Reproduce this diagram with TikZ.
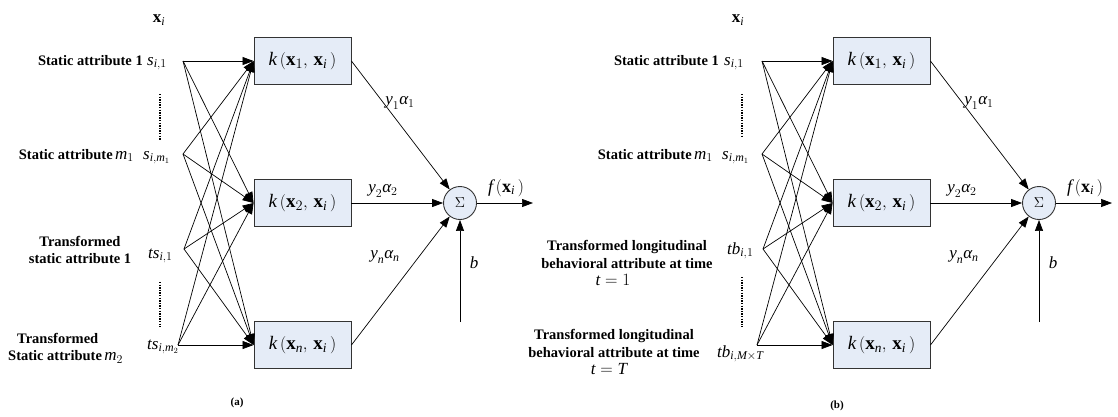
\documentclass[tikz,border=0pt]{standalone}
\usepackage{amsmath}
\usepackage{fontspec}
\setmainfont{Liberation Serif}
\usetikzlibrary{arrows.meta}
\definecolor{boxfill}{RGB}{229,236,247}
\newcommand\ti[1]{\textit{#1}}
\newcommand\xb{\textbf{x}}
\newcommand\netcore{%
  \node[kbox] (k1) at (302.5,61) {$\ti{k}\,(\xb_1,\,\xb_{\ti{i}}\,)$};
  \node[kbox] (k2) at (302.5,203) {$\ti{k}\,(\xb_2,\,\xb_{\ti{i}}\,)$};
  \node[kbox] (kn) at (302.5,345) {$\ti{k}\,(\xb_{\ti{n}},\,\xb_{\ti{i}}\,)$};
  \coordinate (in1) at (183,61);
  \coordinate (in2) at (183,154);
  \coordinate (in3) at (184,249);
  \coordinate (in4) at (178,345);
  \foreach \i in {1,2,3,4}{\foreach \j in {1,2,n}{\draw[arr] (in\i) -- (k\j.west);}}
  \node[sumnode] (s) at (460,203) {$\Sigma$};
  \draw[arr] (k1.east) -- (s);
  \draw[arr] (k2.east) -- (s.west);
  \draw[arr] (kn.east) -- (s);
  \coordinate (out) at (533,203);
  \draw[arr] (s.east) -- (out);
  \coordinate (bin) at (460,322);
  \draw[arr] (bin) -- (s.south);
  \node[mlab] (w1) at (400,103) {$\ti{y}_1\ti{α}_1$};
  \node[mlab] (w2) at (383,191) {$\ti{y}_2\ti{α}_2$};
  \node[mlab] (wn) at (385,257) {$\ti{y}_{\ti{n}}\ti{α}_{\ti{n}}$};
  \node[mlab] (bl) at (474,263) {$\ti{b}$};
  \node[mlab, font=\fontsize{18}{20}\selectfont] (fl) at (506,188) {$\ti{f}\,(\xb_{\ti{i}}\,)$};
  \node[mlab] (xl) at (159,20) {$\xb_{\ti{i}}$};
}
\begin{document}
\begin{tikzpicture}[x=1pt,y=-1pt,
  kbox/.style={draw=black!80, line width=0.9pt, fill=boxfill, minimum width=97pt,
    minimum height=47pt, inner sep=0pt, font=\fontsize{19}{21}\selectfont},
  sumnode/.style={circle, draw=black!80, line width=0.9pt, fill=boxfill,
    minimum size=33pt, inner sep=0pt, font=\fontsize{14}{16}\selectfont},
  arr/.style={line width=0.7pt, -{Triangle[length=11pt,width=8pt]}},
  mlab/.style={inner sep=0pt, font=\fontsize{17}{19}\selectfont},
  blab/.style={inner sep=0pt, font=\bfseries\fontsize{14.5}{17.5}\selectfont},
  dotline/.style={line width=1.3pt, dash pattern=on 1.3pt off 1.3pt},
  captext/.style={inner sep=0pt, font=\bfseries\fontsize{11}{13}\selectfont}]
\useasboundingbox (0,0) rectangle (1118,416);
\begin{scope}[name prefix=a-]
  \netcore
\end{scope}
\begin{scope}[xshift=579pt, name prefix=b-]
  \netcore
\end{scope}
% panel (a) labels
\node[blab, anchor=base east] (a-l1) at (143,65) {Static attribute 1};
\node[mlab, anchor=base west] (a-v1) at (147,65) {$\ti{s}_{\ti{i},1}$};
\draw[dotline] (160,94) -- (160,140);
\node[blab, anchor=base east] (a-l2) at (134,159) {Static attribute\,{\mdseries\fontsize{17}{19}\selectfont$\ti{m}_1$}};
\node[mlab, anchor=base west] (a-v2) at (143,159) {$\ti{s}_{\ti{i},\ti{m}_1}$};
\node[blab, align=center] (a-l3) at (80,250) {Transformed\\static attribute 1};
\node[mlab, anchor=base west] (a-v3) at (148,258) {$\ti{ts}_{\ti{i},1}$};
\draw[dotline] (160,282) -- (160,327);
\node[blab, align=left, anchor=west] (a-l4) at (8,348) {\hspace*{9pt}Transformed\\Static attribute\,{\mdseries\fontsize{17}{19}\selectfont$\ti{m}_2$}};
\node[mlab, anchor=base west] (a-v4) at (147,349) {$\ti{ts}_{\ti{i},\ti{m}_2}$};
\node[captext] (a-cap) at (237,403) {(a)};
% panel (b) labels
\node[blab, anchor=base east] (b-l1) at (719,65) {Static attribute 1};
\node[mlab, anchor=base west] (b-v1) at (724,65) {$\ti{s}_{\ti{i},1}$};
\draw[dotline] (742,94) -- (742,137);
\node[blab, anchor=base east] (b-l2) at (713,159) {Static attribute\,{\mdseries\fontsize{17}{19}\selectfont$\ti{m}_1$}};
\node[mlab, anchor=base west] (b-v2) at (722,159) {$\ti{s}_{\ti{i},\ti{m}_1}$};
\node[blab, align=center] (b-l3) at (627,263) {Transformed longitudinal\\behavioral attribute at time\\{\mdseries\fontsize{17}{19}\selectfont$\ti{t}=1$}\hspace*{28pt}};
\node[mlab, anchor=base west] (b-v3) at (727,254) {$\ti{tb}_{\ti{i},1}$};
\draw[dotline] (742,277) -- (742,327);
\node[blab, align=center] (b-l4) at (614,352) {Transformed longitudinal\\behavioral attribute at time\\{\mdseries\fontsize{17}{19}\selectfont$\ti{t}=\ti{T}$}\hspace*{10pt}};
\node[mlab, anchor=base west] (b-v4) at (717,357) {$\ti{tb}_{\ti{i},\ti{M}\times\ti{T}}$};
\node[captext] (b-cap) at (837,406) {(b)};
\end{tikzpicture}
\end{document}
